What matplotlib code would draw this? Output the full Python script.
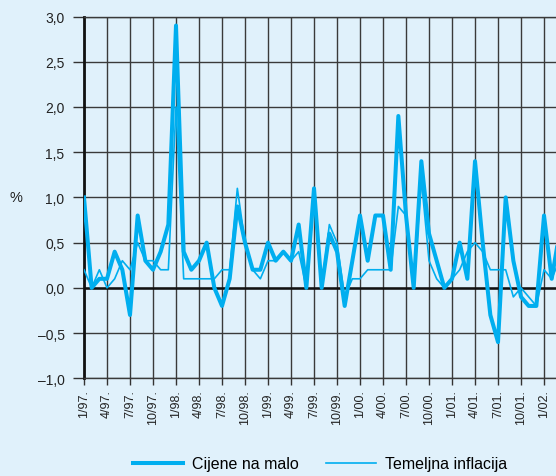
import matplotlib
matplotlib.use('Agg')
import matplotlib.pyplot as plt
import numpy as np

# mjesecne stope, 1/97. - 3/02.
cijene = [1.0, 0.0, 0.1, 0.1, 0.4, 0.2, -0.3, 0.8, 0.3, 0.2, 0.4, 0.7,
          2.9, 0.4, 0.2, 0.3, 0.5, 0.0, -0.2, 0.1, 0.9, 0.5, 0.2, 0.2,
          0.5, 0.3, 0.4, 0.3, 0.7, 0.0, 1.1, 0.0, 0.6, 0.4, -0.2, 0.3,
          0.8, 0.3, 0.8, 0.8, 0.2, 1.9, 0.8, 0.0, 1.4, 0.6, 0.3, 0.0,
          0.1, 0.5, 0.1, 1.4, 0.5, -0.3, -0.6, 1.0, 0.3, -0.1, -0.2, -0.2,
          0.8, 0.1, 0.6]
temeljna = [0.2, 0.0, 0.2, 0.0, 0.1, 0.3, 0.2, 0.5, 0.3, 0.3, 0.2, 0.2,
            2.0, 0.1, 0.1, 0.1, 0.1, 0.1, 0.2, 0.2, 1.1, 0.5, 0.2, 0.1,
            0.3, 0.3, 0.4, 0.3, 0.4, 0.0, 1.0, 0.0, 0.7, 0.5, -0.1, 0.1,
            0.1, 0.2, 0.2, 0.2, 0.2, 0.9, 0.8, 0.0, 1.2, 0.3, 0.1, 0.0,
            0.1, 0.2, 0.4, 0.5, 0.4, 0.2, 0.2, 0.2, -0.1, 0.0, -0.1, -0.2,
            0.2, 0.1, 0.3]
x_labels = ['1/97.', '4/97.', '7/97.', '10/97.', '1/98.', '4/98.', '7/98.', '10/98.',
            '1/99.', '4/99.', '7/99.', '10/99.', '1/00.', '4/00.', '7/00.', '10/00.',
            '1/01.', '4/01.', '7/01.', '10/01.', '1/02.']
y_ticks = [-1.0, -0.5, 0.0, 0.5, 1.0, 1.5, 2.0, 2.5, 3.0]
y_labels = ['\u20131,0', '\u20130,5', '0,0', '0,5', '1,0', '1,5', '2,0', '2,5', '3,0']

bg = '#e0f1fb'
plava = '#00aeef'
plt.rcParams['font.family'] = ['Liberation Sans', 'DejaVu Sans']

fig = plt.figure(figsize=(5.56, 4.77), dpi=100, facecolor=bg)
# desni rub osi namjerno izlazi iz slike (kao u izvorniku)
ax = fig.add_axes([84/556, 97.7/477, 64*7.667/556, 361.8/477])
ax.set_facecolor(bg)

mj = np.arange(len(cijene))
ax.plot(mj, cijene, color=plava, lw=2.9, label='Cijene na malo', zorder=4)
ax.plot(mj, temeljna, color=plava, lw=1.2, label='Temeljna inflacija', zorder=5)

ax.set_xlim(0, 64)
ax.set_ylim(-1.0, 3.0)
ax.set_xticks(np.arange(0, 3*len(x_labels), 3))
ax.set_xticklabels(x_labels, rotation=90, fontsize=9, color='#222222')
ax.set_yticks(y_ticks)
ax.set_yticklabels(y_labels, fontsize=10, color='#222222')
ax.tick_params(axis='y', length=8, width=1.0, color='#333333', pad=6)
ax.tick_params(axis='x', length=5, width=1.0, color='#333333', pad=3)

ax.grid(True, color='#3a3a3a', lw=1.0)
ax.axhline(0, color='#111111', lw=1.8, zorder=3)
for s in ['top', 'right', 'bottom']:
    ax.spines[s].set_color('#3a3a3a')
    ax.spines[s].set_linewidth(1.0)
ax.spines['left'].set_color('#111111')
ax.spines['left'].set_linewidth(2.0)

fig.text(16/556, 1 - 198.5/477, '%', fontsize=10.5, ha='center', va='center', color='#222222')

fig.legend(loc='center', bbox_to_anchor=(0.5755, 12/477), ncol=2, frameon=False,
           fontsize=11.5, handlelength=3.1, columnspacing=1.75, handletextpad=0.55)

fig.savefig('out.png', dpi=100, facecolor=bg)
